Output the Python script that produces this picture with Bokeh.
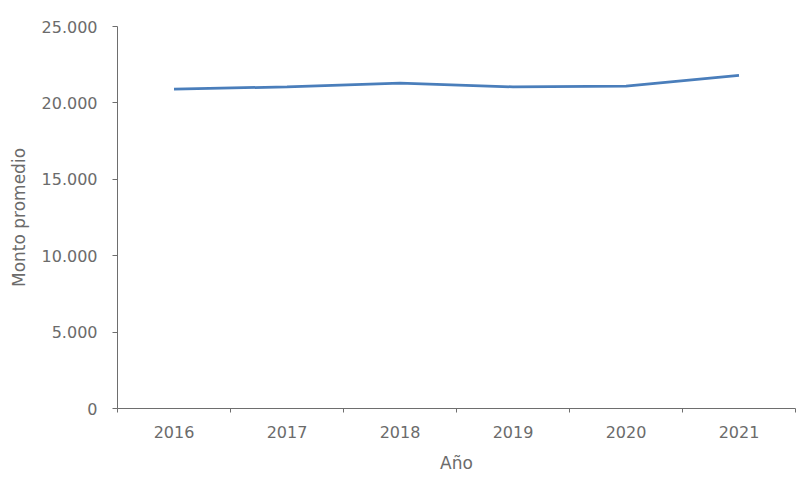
from bokeh.plotting import figure
from bokeh.models import Range1d, FixedTicker, ColumnDataSource
from bokeh.embed import file_html
from bokeh.resources import INLINE

years = ["2016", "2017", "2018", "2019", "2020", "2021"]
monto = [20900, 21050, 21300, 21050, 21100, 21800]
y_ticks = [0, 5000, 10000, 15000, 20000, 25000]
y_labels = ["0", "5.000", "10.000", "15.000", "20.000", "25.000"]

xs = [i + 0.5 for i in range(len(years))]
src = ColumnDataSource(dict(x=xs, y=monto))

p = figure(width=802, height=482, output_backend="svg", toolbar_location=None,
           x_range=Range1d(0, len(years)), y_range=Range1d(0, 25000),
           min_border_left=117, min_border_right=7, min_border_top=26, min_border_bottom=74)
p.outline_line_color = None
p.xgrid.visible = False
p.ygrid.visible = False

p.line("x", "y", source=src, line_color="#4a7ebb", line_width=2.75)

FONT = "DejaVu Sans"
GREY = "#6b6b6b"
AX = "#6e6e6e"

p.xaxis.ticker = FixedTicker(ticks=xs, minor_ticks=list(range(len(years) + 1)))
p.xaxis.major_label_overrides = {x: y for x, y in zip(xs, years)}
p.xaxis.major_tick_line_color = None
p.xaxis.minor_tick_out = 4
p.xaxis.minor_tick_in = 0
p.xaxis.minor_tick_line_color = AX
p.xaxis.axis_line_color = AX
p.xaxis.major_label_text_font = FONT
p.xaxis.major_label_text_font_size = "16px"
p.xaxis.major_label_text_color = GREY
p.xaxis.major_label_standoff = 11
p.xaxis.axis_label = "Año"
p.xaxis.axis_label_text_font = FONT
p.xaxis.axis_label_text_font_size = "17px"
p.xaxis.axis_label_text_font_style = "normal"
p.xaxis.axis_label_text_color = GREY
p.xaxis.axis_label_standoff = 12

p.yaxis.ticker = FixedTicker(ticks=y_ticks, minor_ticks=[])
p.yaxis.major_label_overrides = {t: l for t, l in zip(y_ticks, y_labels)}
p.yaxis.major_tick_out = 5
p.yaxis.major_tick_in = 0
p.yaxis.major_tick_line_color = AX
p.yaxis.axis_line_color = AX
p.yaxis.major_label_text_font = FONT
p.yaxis.major_label_text_font_size = "16px"
p.yaxis.major_label_text_color = GREY
p.yaxis.major_label_standoff = 15
p.yaxis.axis_label = "Monto promedio"
p.yaxis.axis_label_text_font = FONT
p.yaxis.axis_label_text_font_size = "17px"
p.yaxis.axis_label_text_font_style = "normal"
p.yaxis.axis_label_text_color = GREY
p.yaxis.axis_label_standoff = 10

open("out.html", "w").write(file_html(p, INLINE))
